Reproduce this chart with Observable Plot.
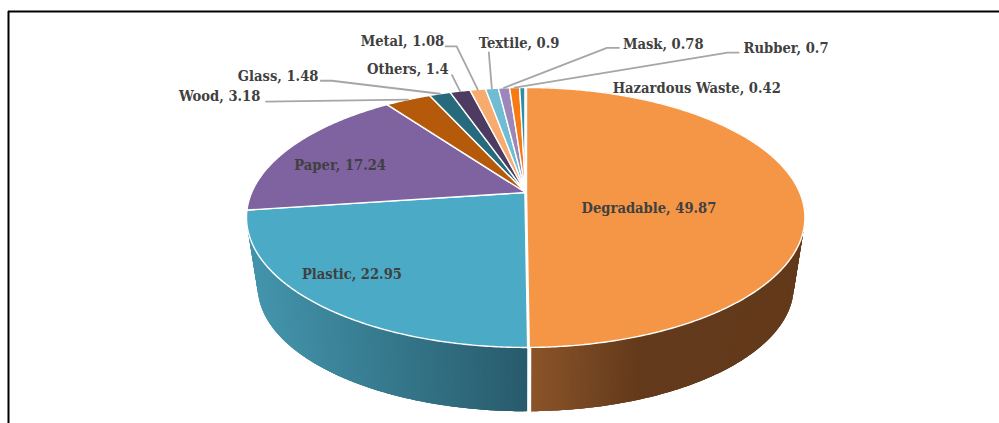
<!DOCTYPE html>
<html>
<head>
<meta charset="utf-8">
<style>html,body{margin:0;padding:0;background:#fff;overflow:hidden}svg{display:block}</style>
<script src="https://cdn.jsdelivr.net/npm/d3@7"></script>
<script src="https://cdn.jsdelivr.net/npm/@observablehq/plot@0.6"></script>
</head>
<body>
<div id="chart"></div>
<script>
const categories = ["Degradable","Plastic","Paper","Wood","Glass","Others","Metal","Textile","Mask","Rubber","Hazardous Waste"];
const values = [49.87,22.95,17.24,3.18,1.48,1.4,1.08,0.9,0.78,0.7,0.42];
const faceColors = ["#F59647","#4BAAC5","#7F62A0","#B55A0A","#276A7C","#4D3B62","#F8AB6E","#70BCD2","#9C86BA","#F57B12","#2F8DA8"];

// Wall shading, interpolated across the width of each visible side wall.
const wallShades = {
  Degradable: {x: [531, 640], colors: ["#8B5429", "#633A1B"]},
  Plastic: {x: [256, 526], colors: ["#4394AB", "#285B6C"]}
};

// Label placement: offset from the slice's anchor. r = radial anchor (1 = rim).
const labelLayout = [
  {r: .45, dx: 0, dy: 16, anchor: "middle"},
  {r: .85, dx: 0, dy: -10, anchor: "middle"},
  {r: .78, dx: 0, dy: 9, anchor: "middle"},
  {r: 1, dx: -229, dy: -3, anchor: "start", lead: [[-142, 2]]},
  {r: 1, dx: -202, dy: -17, anchor: "start", lead: [[-108, -13], [-119, -13]]},
  {r: 1, dx: -93, dy: -22, anchor: "start", lead: [[-8, -16]]},
  {r: 1, dx: -117, dy: -48, anchor: "start", lead: [[-21, -43], [-32, -43]]},
  {r: 1, dx: -13, dy: -45, anchor: "start", lead: [[-3, -36]]},
  {r: 1, dx: 119, dy: -44, anchor: "start", lead: [[103, -40], [115, -40]]},
  {r: 1, dx: 229, dy: -39, anchor: "start", lead: [[213, -35], [224, -35]]},
  {r: 1, dx: 90, dy: 1, anchor: "start"}
];

// Perspective view of the disc
const W = 999, H = 423;
const view = {cx: 525.2, apexTop: 192, apexBottom: 262, d: 274, a: 125.2, c: -0.192, lowerScale: 0.96};
function project(deg, r = 1, lower = false) {
  const t = deg * Math.PI / 180;
  const u = r * Math.sin(t), v = -r * Math.cos(t), w = 1 + view.c * v;
  const s = lower ? view.lowerScale : 1;
  return {x: view.cx + s * view.d * u / w, y: (lower ? view.apexBottom : view.apexTop) + s * view.a * v / w};
}

const total = d3.sum(values);
let acc = 0;
const slices = categories.map((name, i) => {
  const start = acc / total * 360; acc += values[i];
  return {name, value: values[i], start, end: acc / total * 360, mid: (start + (acc / total * 360)) / 2, color: faceColors[i], layout: labelLayout[i]};
});

function range(a, b, step) {
  const out = [];
  for (let t = a; t < b; t += step) out.push(t);
  out.push(b);
  return out;
}

const faceRows = slices.flatMap(s => [
  {id: s.name, fill: s.color, ...project(0, 0)},
  ...range(s.start, s.end, 0.5).map(t => ({id: s.name, fill: s.color, ...project(t)}))
]);

const wallRows = slices.filter(s => wallShades[s.name]).flatMap(s => {
  const shade = wallShades[s.name];
  const col = d3.scaleLinear().domain(shade.x).range(shade.colors).interpolate(d3.interpolateRgb).clamp(true);
  const step = 0.4;
  return range(s.start, s.end - step, step).flatMap((t, k) => {
    const t2 = Math.min(t + step * 3, s.end);
    const tm = Math.min(t + step, s.end);
    const arc = [t, tm, t2];
    const fill = d3.color(col((project(t).x + project(tm).x) / 2)).formatHex();
    const id = s.name + k;
    return [...arc.map(a => project(a)), ...arc.reverse().map(a => project(a, 1, true))].map(p => ({id, fill, ...p}));
  });
});

const labelRows = slices.map(s => {
  const p = project(s.mid, s.layout.r);
  return {text: `${s.name}, ${s.value}`, x: p.x + s.layout.dx, y: p.y + s.layout.dy, anchor: s.layout.anchor};
});

const leaderRows = slices.filter(s => s.layout.lead).flatMap(s => {
  const p = project(s.mid);
  return [{id: s.name, ...p}, ...s.layout.lead.map(([dx, dy]) => ({id: s.name, x: p.x + dx, y: p.y + dy}))];
});

const seam = slices[0];
const topSeam = [project(seam.start), project(0, 0), project(seam.end)];
const wallSeam = [project(seam.end), project(seam.end, 1, true)];

const common = {x: "x", y: "y", curve: "linear-closed"};
const textStyle = {fontFamily: "'DejaVu Serif Condensed', 'DejaVu Serif', serif", fontWeight: "bold", fontSize: 14.6, fill: "#404040"};

const chart = Plot.plot({
  width: W, height: H, margin: 0,
  x: {domain: [0, W], range: [0, W], axis: null},
  y: {domain: [0, H], range: [0, H], axis: null},
  style: {fontStretch: "condensed"},
  marks: [
    Plot.line(wallRows, {...common, z: "id", fill: "fill", stroke: "none"}),
    Plot.line(wallSeam, {x: "x", y: "y", stroke: "#fff", strokeWidth: 4, dx: 0.8}),
    Plot.line(faceRows, {...common, z: "id", fill: "fill", stroke: "#fff", strokeWidth: 1.4}),
    Plot.line(topSeam, {x: "x", y: "y", stroke: "#fff", strokeWidth: 3, curve: "linear"}),
    Plot.line(leaderRows, {x: "x", y: "y", z: "id", stroke: "#A6A6A6", strokeWidth: 1.8}),
    Plot.text(labelRows.filter(d => d.anchor === "middle"), {x: "x", y: "y", text: "text", textAnchor: "middle", ...textStyle}),
    Plot.text(labelRows.filter(d => d.anchor === "start"), {x: "x", y: "y", text: "text", textAnchor: "start", ...textStyle}),
    Plot.ruleY([11], {x1: 8, x2: W, stroke: "#000", strokeWidth: 2}),
    Plot.ruleX([8], {y1: 11, y2: H, stroke: "#000", strokeWidth: 2})
  ]
});
document.getElementById("chart").appendChild(chart);
</script>
</body>
</html>
